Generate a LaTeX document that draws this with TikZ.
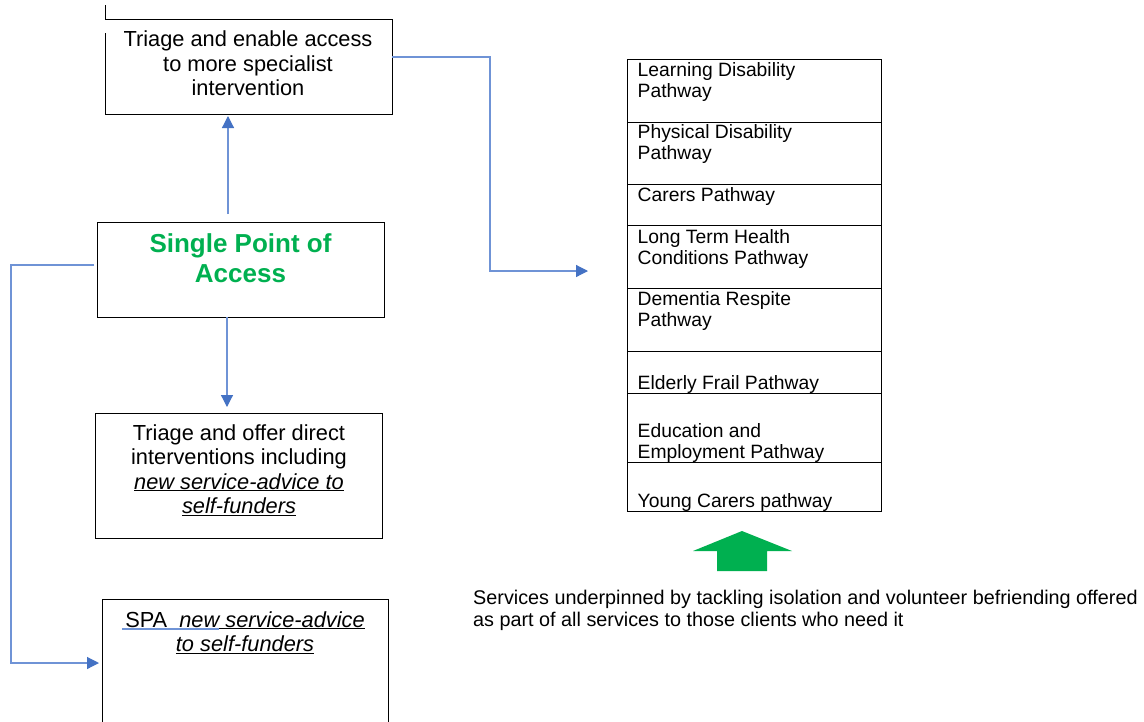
\documentclass[tikz,border=0pt]{standalone}
\usepackage{fontspec}
\setmainfont{Liberation Sans}
\usetikzlibrary{arrows.meta,calc}
\definecolor{conblue}{HTML}{4472C4}
\definecolor{linblue}{HTML}{6F93D6}
\definecolor{spagreen}{HTML}{00B050}
\begin{document}
\begin{tikzpicture}[x=1pt,y=-1pt,
  boxline/.style={draw=black,line width=1pt},
  plainbox/.style={rectangle,inner sep=0pt,outer sep=0pt},
  btext/.style={inner sep=0pt,align=center,font=\fontsize{21.8}{24.5}\selectfont},
  spatext/.style={inner sep=0pt,align=center,font=\fontsize{26}{30}\selectfont\bfseries,text=spagreen},
  cell/.style={rectangle,draw=black,line width=1pt,minimum width=254pt,inner sep=0pt,outer sep=0pt},
  ptext/.style={inner sep=0pt,align=left,font=\fontsize{19.3}{20.5}\selectfont},
  stext/.style={inner sep=0pt,align=left,font=\fontsize{19.8}{22}\selectfont},
  conn/.style={draw=linblue,line width=1.2pt,-{Triangle[length=12pt,width=12pt,color=conblue]}}
]
\useasboundingbox (0,0) rectangle (1144,721);
\clip (0,0) rectangle (1144,721);
\fill[white] (0,0) rectangle (1144,721);

% top box
\node[plainbox,minimum width=287pt,minimum height=95pt] (box1) at (248.5,66.5) {};
\draw[boxline] ([yshift=14pt]box1.north west) -- (box1.north west) -- (box1.north east)
  -- (box1.south east) -- (box1.south west) -- ([yshift=-14pt]box1.north west);
\node[btext] (box1txt) at (248,63.5) {Triage and enable access\\to more specialist\\intervention};

% single point of access
\node[plainbox,boxline,minimum width=287pt,minimum height=95pt] (spa) at (240.5,269.5) {};
\node[spatext] (spatxt) at (240.5,258) {Single Point of\\Access};

% direct interventions
\node[plainbox,boxline,minimum width=287pt,minimum height=125pt] (box2) at (238.5,475.5) {};
\node[btext] (box2txt) at (239,470) {Triage and offer direct\\interventions including\\\underline{\textit{new service-advice to}}\\\underline{\textit{self-funders}}};

% SPA advice box
\node[plainbox,boxline,minimum width=286pt,minimum height=131pt] (box3) at (245,664.5) {};
\node[btext] (box3txt) at (245,632.5) {\underline{SPA\ \ \textit{new service-advice}}\\\underline{\textit{to self-funders}}};
\draw[linblue,line width=1.6pt] (122,628.8) -- (219,628.8);

% pathway table
\node[cell,minimum height=63pt] (r1) at (754,90.5) {};
\node[cell,minimum height=62pt] (r2) at (754,153) {};
\node[cell,minimum height=41pt] (r3) at (754,204.5) {};
\node[cell,minimum height=63pt] (r4) at (754,256.5) {};
\node[cell,minimum height=63pt] (r5) at (754,319.5) {};
\node[cell,minimum height=42pt] (r6) at (754,372) {};
\node[cell,minimum height=69pt] (r7) at (754,427.5) {};
\node[cell,minimum height=49pt] (r8) at (754,486.5) {};

\node[ptext,anchor=north west] (t1) at ([shift={(10.5,3.5)}]r1.north west) {Learning Disability\\Pathway};
\node[ptext,anchor=north west] (t2) at ([shift={(10.5,2.5)}]r2.north west) {Physical Disability\\Pathway};
\node[ptext,anchor=north west] (t3) at ([shift={(10.5,3.5)}]r3.north west) {Carers Pathway};
\node[ptext,anchor=north west] (t4) at ([shift={(10.5,4.5)}]r4.north west) {Long Term Health\\Conditions Pathway};
\node[ptext,anchor=north west] (t5) at ([shift={(10.5,3.5)}]r5.north west) {Dementia Respite\\Pathway};
\node[ptext,anchor=south west] (t6) at ([shift={(10.5,0.5)}]r6.south west) {Elderly Frail Pathway};
\node[ptext,anchor=south west] (t7) at ([shift={(10.5,0.5)}]r7.south west) {Education and\\Employment Pathway};
\node[ptext,anchor=south west] (t8) at ([shift={(10.5,0.5)}]r8.south west) {Young Carers pathway};

% connectors
\coordinate (ux) at (228,0);
\coordinate (dx) at (227,0);
\coordinate (rin) at (588,271);
\coordinate (lin) at (99,663);
\draw[conn,shorten <=8pt,shorten >=2pt] (spa.north -| ux) -- (box1.south -| ux);
\draw[conn,shorten >=6pt] (spa.south -| dx) -- (box2.north -| dx);
\draw[conn] (box1.east |- 0,57) -- (490,57) -- (490,271) -- (rin);
\draw[conn,shorten <=3pt] (spa.west |- 0,265) -- (11,265) -- (11,663) -- (lin);

% green arrow
\fill[spagreen] (742,531) -- (792,551) -- (767,551) -- (767,571) -- (717,571) -- (717,551) -- (693,551) -- cycle;

% note
\node[stext,anchor=north west] (note) at (473,590) {Services underpinned by tackling isolation and volunteer befriending offered\\as part of all services to those clients who need it};
\end{tikzpicture}
\end{document}
